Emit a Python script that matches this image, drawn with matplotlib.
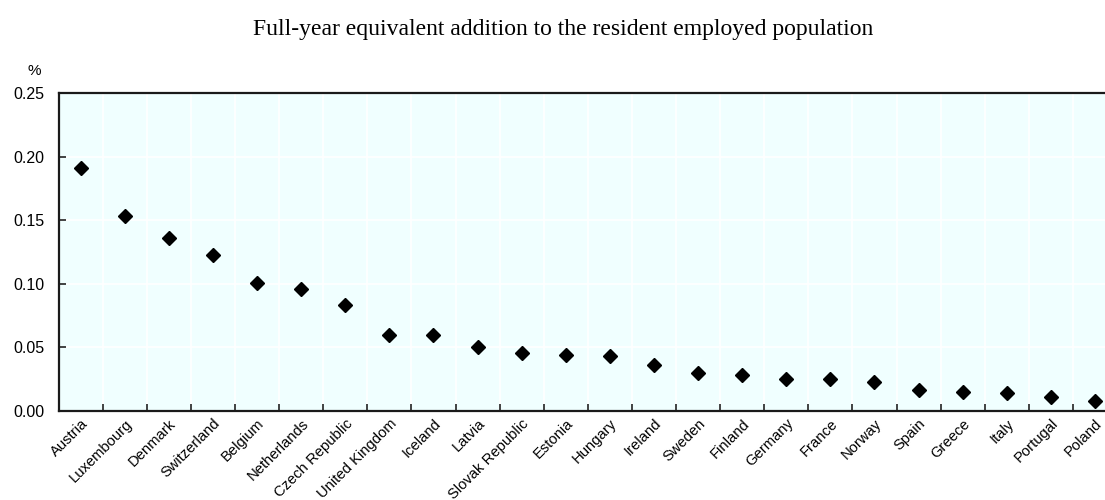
import matplotlib
matplotlib.use("Agg")
import matplotlib.pyplot as plt
import numpy as np

countries = ["Austria", "Luxembourg", "Denmark", "Switzerland", "Belgium", "Netherlands",
             "Czech Republic", "United Kingdom", "Iceland", "Latvia", "Slovak Republic",
             "Estonia", "Hungary", "Ireland", "Sweden", "Finland", "Germany", "France",
             "Norway", "Spain", "Greece", "Italy", "Portugal", "Poland"]
values = [0.191, 0.153, 0.136, 0.123, 0.101, 0.096, 0.083, 0.060, 0.060, 0.050, 0.0455,
          0.044, 0.043, 0.036, 0.030, 0.028, 0.0253, 0.0253, 0.023, 0.016, 0.0146,
          0.0143, 0.011, 0.008]
yticks = [0.00, 0.05, 0.10, 0.15, 0.20, 0.25]
title = "Full-year equivalent addition to the resident employed population"

fig = plt.figure(figsize=(11.05, 5.0), dpi=100)
W, H = 1105, 500
left, right, top, bottom = 58.6, 1117, 93.3, 410.8
ax = fig.add_axes([left / W, 1 - bottom / H, (right - left) / W, (bottom - top) / H])
ax.set_facecolor("#F0FFFF")

n = len(countries)
x = np.arange(n)
ax.plot(x, values, linestyle="none", marker="D", markersize=7, color="black", zorder=3)

ax.set_xlim(-0.5, n - 0.5)
ax.set_ylim(0, 0.25)

# category boundaries carry ticks and vertical grid lines
bounds = np.arange(n + 1) - 0.5
ax.set_xticks(bounds[1:-1])
ax.set_xticklabels([])
ax.set_xticks(x, minor=True)
ax.set_xticklabels(countries, minor=True, rotation=45, ha="right", va="top",
                   rotation_mode="anchor", fontsize=10.6, family="Liberation Sans")
ax.tick_params(axis="x", which="minor", length=0, pad=4)
ax.tick_params(axis="x", which="major", direction="in", length=5, width=1.2, color="#222222")

ax.set_yticks(yticks)
ax.set_yticklabels([f"{v:.2f}" for v in yticks], fontsize=11.5, family="Liberation Sans")
ax.tick_params(axis="y", direction="in", length=5, width=1.2, color="#222222", pad=10)

ax.grid(True, which="major", color="white", linewidth=1.2, zorder=0)
ax.set_axisbelow(True)

for side in ["left", "bottom", "top"]:
    ax.spines[side].set_color("#1a1a1a")
    ax.spines[side].set_linewidth(1.6)
ax.spines["right"].set_visible(False)

fig.text(28 / W, 1 - 71 / H, "%", fontsize=11, family="Liberation Sans",
         ha="left", va="center")
fig.text(563 / W, 1 - 35 / H, title, fontsize=17, family="Liberation Serif",
         ha="center", va="baseline")

fig.savefig("out.png", dpi=100)
